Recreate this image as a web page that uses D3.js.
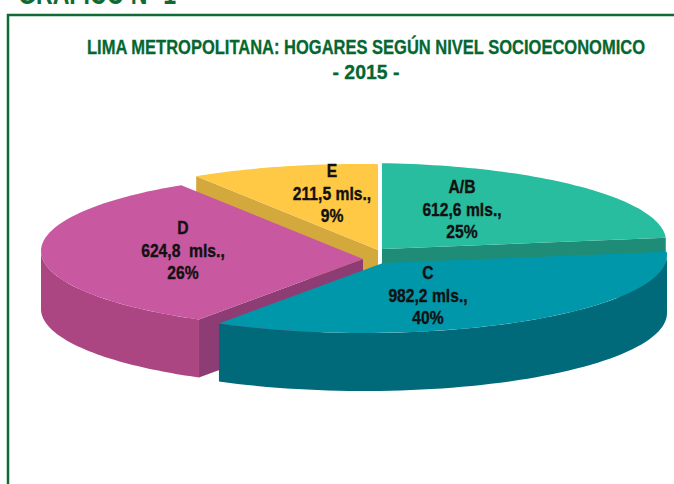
<!DOCTYPE html>
<html>
<head>
<meta charset="utf-8">
<script src="https://d3js.org/d3.v7.min.js"></script>
<style>
  html, body { margin: 0; padding: 0; background: #fff; overflow: hidden; }
  svg { display: block; }
  text { font-family: "Liberation Sans", sans-serif; font-weight: bold; }
</style>
</head>
<body>
<div id="chart"></div>
<script>
// Data
const categories = ["A/B", "C", "D", "E"];
const households = [612.6, 982.2, 624.8, 211.5];
const valueLabels = ["612,6 mls.,", "982,2 mls.,", "624,8  mls.,", "211,5 mls.,"];
const shareLabels = ["25%", "40%", "26%", "9%"];

const topColors = ["#29bda0", "#0097ab", "#c8589f", "#ffc845"];
const wallColors = ["#1f8c77", "#006a7a", "#ab4683", "#d3a83c"];
const edgeColor = "#8e3c74";

const titleLines = ["LIMA METROPOLITANA: HOGARES SEGÚN NIVEL SOCIOECONOMICO", "- 2015 -"];
const titleWidths = [558, 67];
const headerText = "GRÁFICO N° 1";

const width = 674, height = 484;
const deg = Math.PI / 180;

// The picture is a perspective pie, so the rim ellipse is not centred on the apex
const rim = { cx: 363, cy: 241, rx: 303, ry: 78 };
const apex = { x: 382, y: 249 };
const depth = 58;

// exploded slices
const explode = {
    "A/B": [0, 0],
    "C": [1, 14],
    "D": [-19, 10],
    "E": [-4, 1]
};

const labelPos = {
    "A/B": [462, 193],
    "C": [428, 279],
    "D": [183, 234],
    "E": [332, 177]
};

const svg = d3.select("#chart").append("svg")
    .attr("width", width)
    .attr("height", height);

// Header of the page, cut by the crop of the picture
svg.append("text")
    .attr("x", 18)
    .attr("y", 4)
    .attr("font-size", 32)
    .attr("fill", "#0e6b35")
    .attr("textLength", 158)
    .attr("lengthAdjust", "spacingAndGlyphs")
    .text(headerText);

// Frame
svg.append("path")
    .attr("d", "M8,484V15H674")
    .attr("fill", "none")
    .attr("stroke", "#0e6b35")
    .attr("stroke-width", 2.5);

// Title
svg.selectAll(".title")
    .data(titleLines)
    .enter().append("text")
    .attr("class", "title")
    .attr("x", 366)
    .attr("y", (d, i) => 54 + i * 25)
    .attr("text-anchor", "middle")
    .attr("font-size", 20)
    .attr("fill", "#05672f")
    .attr("stroke", "#05672f")
    .attr("stroke-width", 0.3)
    .attr("textLength", (d, i) => titleWidths[i])
    .attr("lengthAdjust", "spacingAndGlyphs")
    .text(d => d);

// Slice angles come from d3.pie, starting at 12 o'clock and going clockwise
const pie = d3.pie().sort(null).value(d => d.value);
const slices = pie(categories.map((c, i) => ({ name: c, value: households[i], idx: i })));

// Foreshortening: true pie angle -> angle on the rim ellipse
const total = d3.sum(households);
let run = 0;
const breaks = [0].concat(households.map(v => { run += v; return run / total * 2 * Math.PI; }));
const view = d3.scaleLinear()
    .domain(breaks)
    .range([3.6, 87.7, 208.6, 327.5, 363.6].map(d => d * deg));

function rimPoint(a) {
    const p = view(a);
    return [rim.cx + rim.rx * Math.sin(p), rim.cy - rim.ry * Math.cos(p)];
}

function rimArc(a0, a1) {
    const n = 60;
    return d3.range(n + 1).map(i => rimPoint(a0 + (a1 - a0) * i / n));
}

// Only the front half of the rim shows a wall
function frontArc(d) {
    return rimArc(
        Math.max(d.startAngle, view.invert(90 * deg)),
        Math.min(d.endAngle, view.invert(270 * deg))
    );
}

const line = d3.line();

function group(d) {
    const o = explode[d.data.name];
    return svg.append("g")
        .attr("class", "slice slice-" + d.data.idx)
        .attr("transform", "translate(" + o[0] + "," + o[1] + ")");
}

function drawWall(g, pts, color) {
    const lower = pts.map(p => [p[0], p[1] + depth]).reverse();
    g.append("path")
        .attr("d", line(pts.concat(lower)) + "Z")
        .attr("fill", color);
}

// Paint back to front: A/B, E, D, C
[slices[0], slices[3], slices[2], slices[1]].forEach(d => {
    const g = group(d);
    const i = d.data.idx;
    const name = d.data.name;
    const arc = rimArc(d.startAngle, d.endAngle);
    const a = [apex.x, apex.y];

    if (name === "A/B") {
        drawWall(g, [a, arc[arc.length - 1]], wallColors[i]);
    }
    if (name === "E") {
        drawWall(g, [arc[0], a], wallColors[i]);
    }
    if (name === "D") {
        drawWall(g, frontArc(d), wallColors[i]);
        drawWall(g, [a, arc[0]], edgeColor);
    }
    if (name === "C") {
        drawWall(g, frontArc(d), wallColors[i]);
    }

    g.append("path")
        .attr("d", line([a].concat(arc)) + "Z")
        .attr("fill", topColors[i]);
});

// Labels, squeezed because no condensed face is installed
const labels = svg.selectAll(".label")
    .data(categories)
    .enter().append("g")
    .attr("class", "label");

labels.selectAll("text")
    .data((d, i) => [d, valueLabels[i], shareLabels[i]].map(t => ({ t: t, name: d })))
    .enter().append("text")
    .attr("x", d => labelPos[d.name][0])
    .attr("y", (d, j) => labelPos[d.name][1] + j * 22.5)
    .attr("text-anchor", "middle")
    .attr("font-size", 18)
    .attr("fill", "#111")
    .attr("stroke", "#111")
    .attr("stroke-width", 0.35)
    .attr("xml:space", "preserve")
    .text(d => d.t)
    .each(function () {
        const w = this.getComputedTextLength();
        d3.select(this)
            .attr("textLength", w * 0.87)
            .attr("lengthAdjust", "spacingAndGlyphs");
    });
</script>
</body>
</html>
